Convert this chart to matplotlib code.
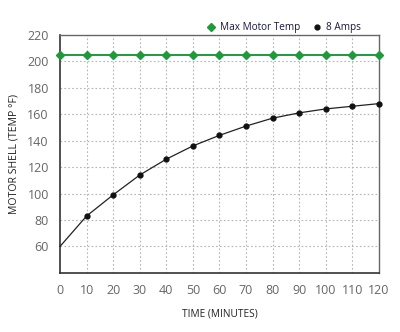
import matplotlib.pyplot as plt

# time in minutes and shell temperatures in degrees F
minutes = [0, 10, 20, 30, 40, 50, 60, 70, 80, 90, 100, 110, 120]
max_motor_temp = [205] * len(minutes)
amps_8 = [60, 83, 99, 114, 126, 136, 144, 151, 157, 161, 164, 166, 168]

x_ticks = list(range(0, 121, 10))
y_ticks = list(range(60, 221, 20))

plt.rcParams['font.family'] = ['Open Sans', 'DejaVu Sans']

fig = plt.figure(figsize=(4, 3.32), dpi=100)
ax = fig.add_axes([0.15, 0.178, 0.797, 0.717])

ax.plot(minutes, max_motor_temp, color='#1e9a3c', lw=1.4, marker='D',
        ms=3.6, mec='#1e9a3c', mfc='#1e9a3c', label='Max Motor Temp',
        clip_on=False, zorder=4)
ax.plot(minutes, amps_8, color='#222222', lw=0.9, marker='o', ms=3.5,
        markevery=list(range(1, len(minutes))), mfc='#111111', mec='#111111',
        label='8 Amps', clip_on=False, zorder=4)

ax.set_xlim(0, 120)
ax.set_ylim(40, 220)
ax.set_xticks(x_ticks)
ax.set_yticks(y_ticks)
ax.tick_params(axis='both', length=0, labelsize=9, labelcolor='#666666', pad=8)

# dotted grid, skipping the lines that sit on the frame
for x in x_ticks[1:-1]:
    ax.axvline(x, color='#b5b5b5', ls=(0, (1.5, 2)), lw=0.8, zorder=1)
for y in y_ticks[:-1]:
    ax.axhline(y, color='#b5b5b5', ls=(0, (1.5, 2)), lw=0.8, zorder=1)

for side in ['left', 'bottom']:
    ax.spines[side].set_color('#333333')
    ax.spines[side].set_linewidth(1.2)
for side in ['top', 'right']:
    ax.spines[side].set_color('#666666')
    ax.spines[side].set_linewidth(1.0)

ax.set_xlabel('TIME (MINUTES)', fontsize=7.3, color='#222222', labelpad=8)
ax.set_ylabel('MOTOR SHELL (TEMP °F)', fontsize=7.6, color='#222222', labelpad=6)

leg = ax.legend(loc='lower right', bbox_to_anchor=(0.955, 0.99), ncol=2,
                frameon=False, fontsize=7.2, handlelength=0.8,
                handletextpad=0.5, columnspacing=1.2, borderaxespad=0)
for line in leg.get_lines():
    line.set_linestyle('none')
for t in leg.get_texts():
    t.set_color('#1a1a40')

plt.savefig('out.png', dpi=100)
